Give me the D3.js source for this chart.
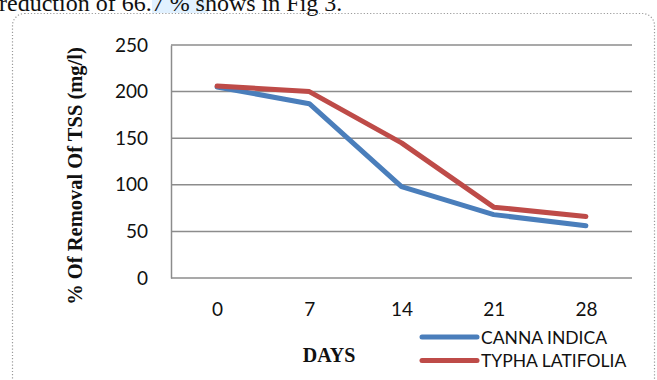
<!DOCTYPE html>
<html>
<head>
<meta charset="utf-8">
<script src="https://cdn.jsdelivr.net/npm/d3@7/dist/d3.min.js"></script>
<style>
  html, body { margin: 0; padding: 0; background: #fff; }
  svg { display: block; }
</style>
</head>
<body>
<svg id="chart" width="657" height="380"></svg>
<script>
// TSS removal over time for two wetland plants
const days = ["0", "7", "14", "21", "28"];
const cannaIndica = [205, 187, 98, 68, 56];
const typhaLatifolia = [206, 200, 145, 76, 66];
const seriesNames = ["CANNA INDICA", "TYPHA LATIFOLIA"];
const seriesColors = ["#4a7ebb", "#be4b48"];
const yTicks = [0, 50, 100, 150, 200, 250];

const sansFont = "Lato, 'Open Sans', 'Liberation Sans', sans-serif";
const serifFont = "'Liberation Serif', 'Times New Roman', serif";

const svg = d3.select("#chart");

// Running text line above the figure frame
const intro = svg.append("g");
intro.append("rect")
  .attr("x", 152).attr("y", 0).attr("width", 56).attr("height", 13)
  .attr("fill", "#dcefff").attr("opacity", 0.85);
intro.append("text")
  .attr("x", -1).attr("y", 11)
  .attr("font-family", serifFont)
  .attr("font-size", 24)
  .attr("fill", "#111")
  .text("reduction of 66.7 % shows in Fig 3.");

// Dotted rounded frame
svg.append("rect")
  .attr("x", 12.5).attr("y", 13.5)
  .attr("width", 642).attr("height", 380)
  .attr("rx", 12).attr("ry", 12)
  .attr("fill", "none")
  .attr("stroke", "#9a9a9a")
  .attr("stroke-width", 1.2)
  .attr("stroke-dasharray", "1.2,2");

const plot = { left: 171, right: 632, top: 45, bottom: 278 };

const x = d3.scalePoint()
  .domain(days)
  .range([plot.left, plot.right])
  .padding(0.5);

const y = d3.scaleLinear()
  .domain([0, 250])
  .range([plot.bottom, plot.top]);

// Horizontal gridlines
svg.append("g")
  .selectAll("line")
  .data(yTicks)
  .join("line")
  .attr("x1", plot.left).attr("x2", plot.right)
  .attr("y1", d => y(d)).attr("y2", d => y(d))
  .attr("stroke", "#8c8c8c")
  .attr("stroke-width", 1.5);

// Y axis
const yAxis = svg.append("g")
  .attr("transform", `translate(${plot.left},0)`)
  .call(d3.axisLeft(y).tickValues(yTicks).tickSize(0).tickPadding(23));
yAxis.select(".domain").attr("stroke", "#8c8c8c").attr("stroke-width", 1.5);
yAxis.selectAll("text")
  .attr("font-family", sansFont)
  .attr("font-size", 19)
  .attr("fill", "#111");

// X axis (labels only)
const xAxis = svg.append("g")
  .attr("transform", `translate(0,${plot.bottom})`)
  .call(d3.axisBottom(x).tickSize(0).tickPadding(25));
xAxis.select(".domain").remove();
xAxis.selectAll("text")
  .attr("font-family", sansFont)
  .attr("font-size", 19)
  .attr("fill", "#111");

// Axis titles
svg.append("text")
  .attr("transform", "translate(82,176) rotate(-90)")
  .attr("text-anchor", "middle")
  .attr("font-family", serifFont)
  .attr("font-weight", "bold")
  .attr("font-size", 20.5)
  .attr("fill", "#111")
  .text("% Of Removal Of TSS (mg/l)");

svg.append("text")
  .attr("x", 329).attr("y", 362)
  .attr("text-anchor", "middle")
  .attr("font-family", serifFont)
  .attr("font-weight", "bold")
  .attr("font-size", 20)
  .attr("fill", "#111")
  .text("DAYS");

// Series lines
const line = d3.line()
  .x((d, i) => x(days[i]))
  .y(d => y(d));

const allSeries = [cannaIndica, typhaLatifolia];
svg.append("g")
  .selectAll("path")
  .data(allSeries)
  .join("path")
  .attr("d", d => line(d))
  .attr("fill", "none")
  .attr("stroke", (d, i) => seriesColors[i])
  .attr("stroke-width", 5)
  .attr("stroke-linecap", "round")
  .attr("stroke-linejoin", "round");

// Legend
const legend = svg.append("g").attr("transform", "translate(422,337)");
const item = legend.selectAll("g")
  .data(seriesNames)
  .join("g")
  .attr("transform", (d, i) => `translate(0,${i * 23.5})`);
item.append("line")
  .attr("x1", 0).attr("x2", 55)
  .attr("stroke", (d, i) => seriesColors[i])
  .attr("stroke-width", 5)
  .attr("stroke-linecap", "round");
item.append("text")
  .attr("x", 59).attr("y", 6.5)
  .attr("font-family", sansFont)
  .attr("font-size", 17.5)
  .attr("fill", "#111")
  .text(d => d);
</script>
</body>
</html>
